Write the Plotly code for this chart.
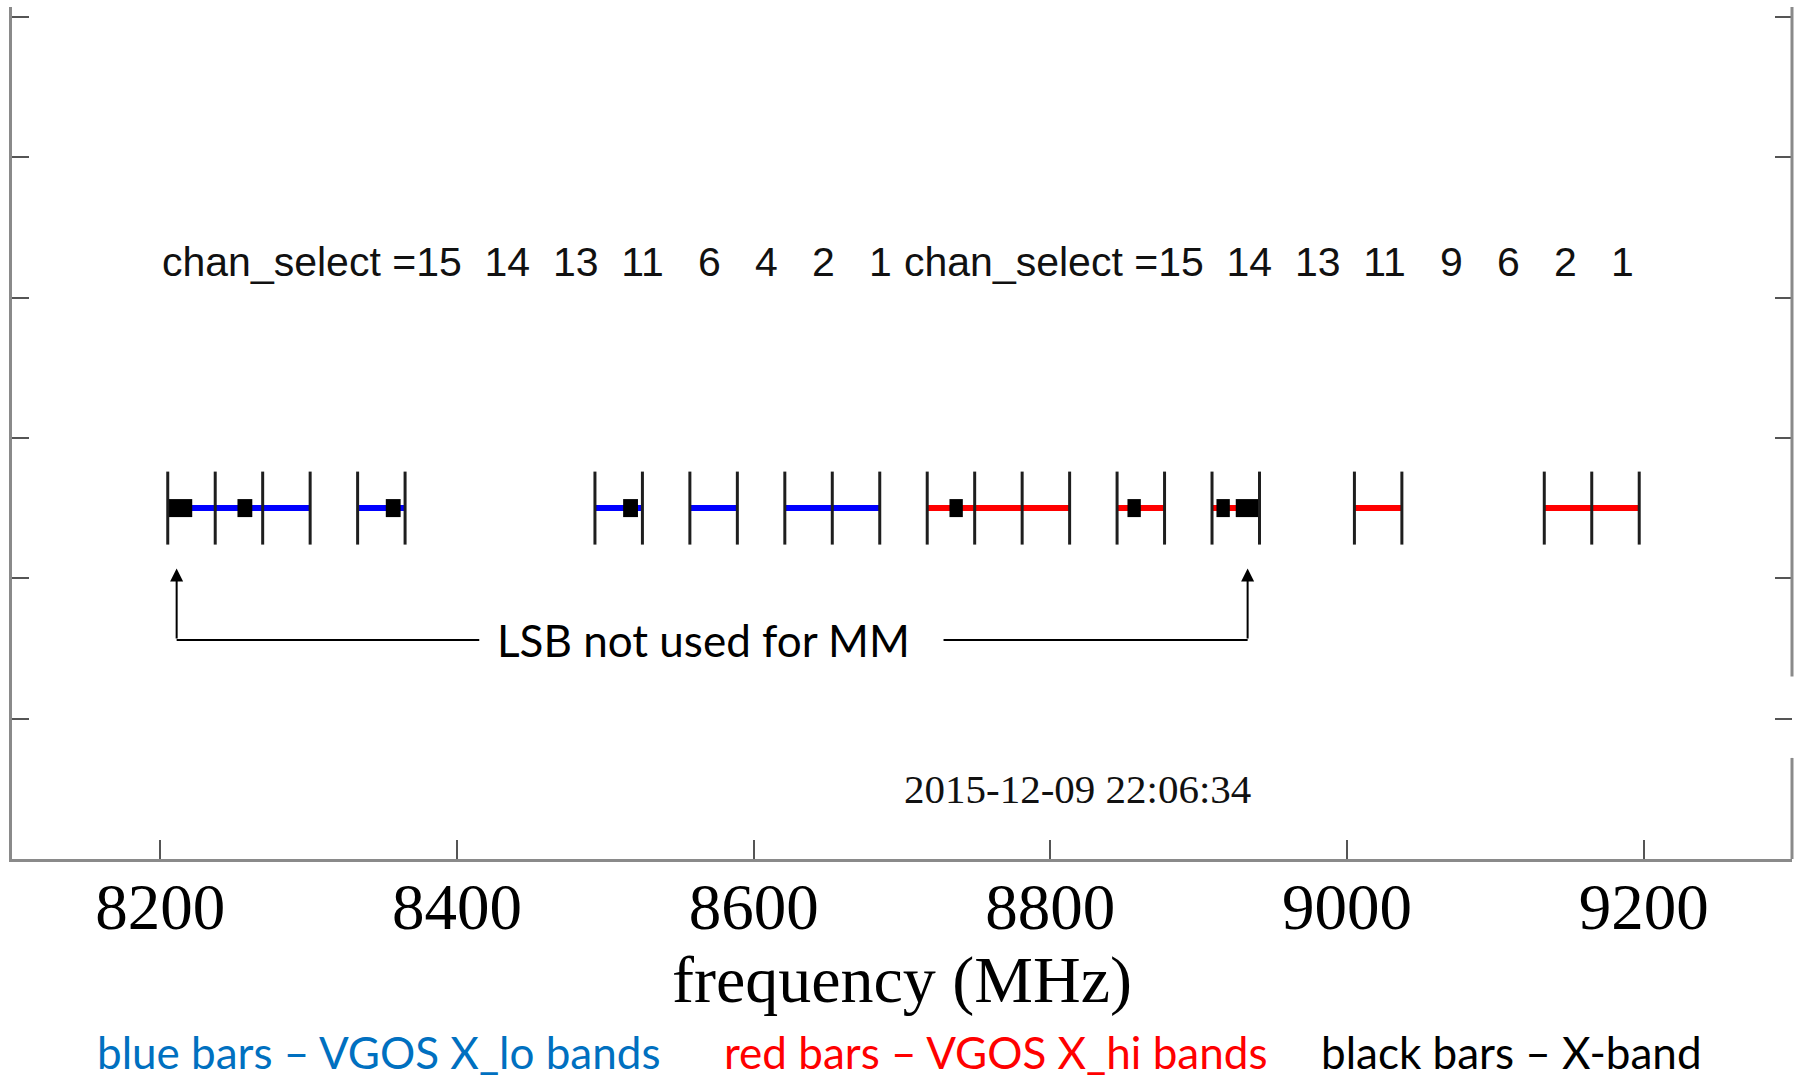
import plotly.graph_objects as go

# ---------------- data ----------------
x_ticks = [8200, 8400, 8600, 8800, 9000, 9200]
x_tick_labels = ["8200", "8400", "8600", "8800", "9000", "9200"]
y_ticks = [0, 1, 2, 3, 4, 5, 6]

# VGOS X_lo channels (blue bars), MHz
blue_start = [8205, 8237, 8269, 8333, 8493, 8557, 8621, 8653]
blue_end = [8237, 8269, 8301, 8365, 8525, 8589, 8653, 8685]
# VGOS X_hi channels (red bars), MHz
red_start = [8717, 8749, 8781, 8845, 8909, 9005, 9133, 9165]
red_end = [8749, 8781, 8813, 8877, 8941, 9037, 9165, 9197]
# X-band channels (black bars), MHz
black_start = [8205, 8252, 8352, 8512, 8732, 8852, 8912, 8925]
black_end = [8221.5, 8262, 8362, 8522, 8741, 8861, 8921, 8941]

chan_select_lo = [15, 14, 13, 11, 6, 4, 2, 1]
chan_select_hi = [15, 14, 13, 11, 9, 6, 2, 1]
chan_text_x = [8200, 8700]
chan_text_y = 4.25

lsb_arrow_x = [8211, 8933]
lsb_line_gap = [8415, 8728]
lsb_text_x = 8566
lsb_line_y = 1.56
lsb_arrow_tip_y = 2.07

timestamp = "2015-12-09 22:06:34"
timestamp_pos = (8700, 0.5)

legend_texts = ["blue bars \u2013 VGOS X_lo bands", "red bars \u2013 VGOS X_hi bands", "black bars \u2013 X-band"]
legend_colors = ["#0070C0", "#FF0000", "#000000"]
legend_x = [0.0466, 0.3989, 0.7343]

BAR_Y = 2.5
X_RANGE = [8100, 9300]
Y_RANGE = [0, 6.07]

# ---------------- helpers ----------------
def segs(starts, ends, y):
    xs, ys = [], []
    for s, e in zip(starts, ends):
        xs += [s, e, None]
        ys += [y, y, None]
    return xs, ys

fig = go.Figure()

bx, by = segs(blue_start, blue_end, BAR_Y)
fig.add_trace(go.Scatter(x=bx, y=by, mode="lines", line=dict(color="#0000FF", width=6),
                         hoverinfo="skip", showlegend=False))
rx, ry = segs(red_start, red_end, BAR_Y)
fig.add_trace(go.Scatter(x=rx, y=ry, mode="lines", line=dict(color="#FF0000", width=6),
                         hoverinfo="skip", showlegend=False))
kx, ky = segs(black_start, black_end, BAR_Y)
fig.add_trace(go.Scatter(x=kx, y=ky, mode="lines", line=dict(color="#000000", width=18),
                         hoverinfo="skip", showlegend=False))

edges = sorted(set(blue_start + blue_end + red_start + red_end))
ex, ey = [], []
for v in edges:
    ex += [v, v, None]
    ey += [BAR_Y - 0.26, BAR_Y + 0.26, None]
fig.add_trace(go.Scatter(x=ex, y=ey, mode="lines", line=dict(color="#1e1e1e", width=3),
                         hoverinfo="skip", showlegend=False))

# LSB connector line
lx = [lsb_arrow_x[0], lsb_line_gap[0], None, lsb_line_gap[1], lsb_arrow_x[1]]
ly = [lsb_line_y, lsb_line_y, None, lsb_line_y, lsb_line_y]
fig.add_trace(go.Scatter(x=lx, y=ly, mode="lines", line=dict(color="#000000", width=2),
                         hoverinfo="skip", showlegend=False))

# invisible trace for the right-side y axis ticks
fig.add_trace(go.Scatter(x=[X_RANGE[0]], y=[0], yaxis="y2", mode="markers",
                         marker=dict(opacity=0), hoverinfo="skip", showlegend=False))

annotations = []
for xa in lsb_arrow_x:
    annotations.append(dict(x=xa, y=lsb_arrow_tip_y, ax=xa, ay=lsb_line_y, xref="x", yref="y",
                            axref="x", ayref="y", text="", showarrow=True, arrowhead=2,
                            arrowsize=1.3, arrowwidth=2, arrowcolor="#000000"))

annotations.append(dict(x=lsb_text_x, y=lsb_line_y, xref="x", yref="y",
                        text="LSB not used for MM", showarrow=False,
                        font=dict(family="Lato", size=44, color="#000000"),
                        xanchor="center", yanchor="middle"))

NB = "\u00a0"
def chan_string(vals):
    s = "".join(f"{v:4d}" for v in vals).lstrip()
    return ("chan_select =" + s).replace(" ", NB)

for xpos, vals in zip(chan_text_x, [chan_select_lo, chan_select_hi]):
    annotations.append(dict(x=xpos, y=chan_text_y, xref="x", yref="y", text=chan_string(vals),
                            showarrow=False, xanchor="left", yanchor="middle",
                            font=dict(family="Liberation Sans", size=41, color="#111111")))

annotations.append(dict(x=timestamp_pos[0], y=timestamp_pos[1], xref="x", yref="y",
                        text=timestamp.replace(" ", NB), showarrow=False, xanchor="left",
                        yanchor="middle",
                        font=dict(family="Liberation Serif", size=41, color="#111111")))

annotations.append(dict(x=0.5, y=-0.1415, xref="paper", yref="paper", text="frequency (MHz)",
                        showarrow=False, xanchor="center", yanchor="middle",
                        font=dict(family="Liberation Serif", size=66, color="#000000")))

for t, c, xp in zip(legend_texts, legend_colors, legend_x):
    annotations.append(dict(x=xp, y=-0.227, xref="paper", yref="paper", text=t, showarrow=False,
                            xanchor="left", yanchor="middle",
                            font=dict(family="Lato", size=44, color=c)))

shapes = [
    dict(type="line", xref="paper", yref="y", x0=1, x1=1, y0=0, y1=0.72,
         line=dict(color="#8a8a8a", width=3)),
    dict(type="line", xref="paper", yref="y", x0=1, x1=1, y0=1.30, y1=Y_RANGE[1],
         line=dict(color="#8a8a8a", width=3)),
]

fig.update_layout(
    width=1798, height=1077,
    margin=dict(l=12, r=6, t=7, b=218),
    paper_bgcolor="white", plot_bgcolor="white",
    showlegend=False,
    annotations=annotations,
    shapes=shapes,
    xaxis=dict(range=X_RANGE, tickvals=x_ticks, ticktext=x_tick_labels, ticks="inside",
               ticklen=19, tickwidth=2, tickcolor="#555555", showline=True, linecolor="#8a8a8a",
               linewidth=3, showgrid=False, zeroline=False, ticklabelstandoff=-11,
               tickfont=dict(family="Liberation Serif", size=65, color="#000000")),
    yaxis=dict(range=Y_RANGE, tickvals=y_ticks, ticks="inside", ticklen=17, tickwidth=2,
               tickcolor="#555555", showline=True, linecolor="#8a8a8a", linewidth=3,
               showgrid=False, zeroline=False, showticklabels=False),
    yaxis2=dict(range=Y_RANGE, tickvals=y_ticks, ticks="inside", ticklen=17, tickwidth=2,
                tickcolor="#555555", showline=False, overlaying="y", side="right",
                showgrid=False, zeroline=False, showticklabels=False),
)

fig.write_html("out.html", config={"displayModeBar": False},
               post_script="document.body.style.margin='0';document.body.style.overflow='hidden';")
